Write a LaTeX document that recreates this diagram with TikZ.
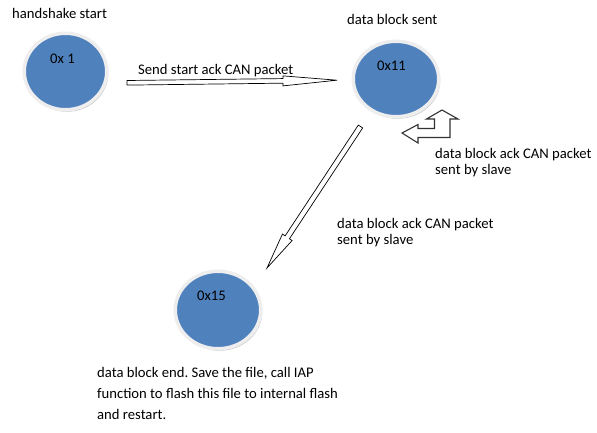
\documentclass[tikz,border=0pt]{standalone}
\usepackage{fontspec}
\setmainfont{Carlito}
\frenchspacing
\usetikzlibrary{calc,shapes.geometric,shadows}
\definecolor{stblue}{HTML}{4F81BD}
\definecolor{ringc}{HTML}{EEEEEE}
\newcommand\blkarrow[6][]{%
  \coordinate (hb) at ($(#3)!#6!(#2)$);
  \draw[arrowline,#1] ($(#2)!#4!90:(#3)$) -- ($(hb)!#4!-90:(#2)$) -- ($(hb)!#5!-90:(#2)$) -- (#3)
    -- ($(hb)!#5!90:(#2)$) -- ($(hb)!#4!90:(#2)$) -- ($(#2)!#4!-90:(#3)$) -- cycle;}
\begin{document}
\begin{tikzpicture}[x=1pt,y=-1pt,
  lbl/.style={font=\fontsize{14.67}{16.5}\selectfont, inner sep=0pt, align=left, text=black},
  lbltwo/.style={font=\fontsize{14.67}{21}\selectfont, inner sep=0pt, align=left, text=black},
  state/.style={ellipse, fill=stblue, draw=ringc, line width=3.5pt, inner sep=0pt,
    drop shadow={shadow xshift=1.5pt, shadow yshift=-2pt, opacity=0.4, fill=gray}},
  arrowline/.style={draw=black, line width=0.7pt, fill=white, line join=miter}]
\useasboundingbox (0,0) rectangle (597,432);
\fill[white] (0,0) rectangle (597,432);
% states
\node[state, minimum width=82.5pt, minimum height=76.5pt] (s1) at (65.5,71.5) {};
\node[state, minimum width=85.5pt, minimum height=75.5pt] (s2) at (396,79) {};
\node[state, minimum width=85.5pt, minimum height=77.5pt] (s3) at (218,310) {};
% texts
\node[lbl, anchor=base west] (hs) at (12,18) {handshake start};
\node[lbl, anchor=base west] (t1) at (50,63) {0x 1};
\node[lbl, anchor=base west] (ds) at (347,24) {data block sent};
\node[lbl, anchor=base west] (t2) at (377,70) {0x11};
\node[lbl, anchor=base west] (t3) at (197,300) {0x15};
\node[lbl, anchor=base west] (l1) at (138,74) {Send start ack CAN packet};
\node[lbl, anchor=base west] (l2) at (435,174.5) {data block ack CAN packet\\sent by slave};
\node[lbl, anchor=base west] (l3) at (337,244.5) {data block ack CAN packet\\sent by slave};
\node[lbltwo, anchor=base west] (en) at (97,419) {data block end. Save the file, call IAP\\function to flash this file to internal flash\\and restart.};
% connectors
\coordinate (a1s) at (127,82.8);
\coordinate (a1t) at (337,80.2);
\blkarrow{a1s}{a1t}{2.3pt}{5pt}{54pt}
\coordinate (a2s) at (360.5,126.5);
\coordinate (a2t) at (267,268);
\blkarrow{a2s}{a2t}{2.6pt}{5.8pt}{36.8pt}
\coordinate (ut) at (442,110);
\begin{scope}[shift={(ut)}]
\draw[arrowline, draw=black!80, line width=1.1pt]
  (-40,23) -- (-24,14.5) -- (-24,18.5) -- (-7.5,18.5) -- (-7.5,9) -- (-15.5,9) -- (0,0)
  -- (16,9) -- (8,9) -- (8,27.5) -- (-24,27.5) -- (-24,33) -- cycle;
\end{scope}
\end{tikzpicture}
\end{document}
